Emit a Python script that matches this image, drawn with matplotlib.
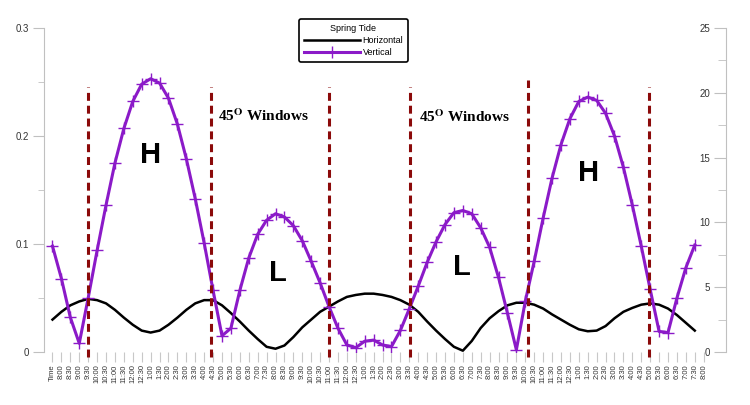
import numpy as np
import matplotlib.pyplot as plt

plt.rcParams['font.family'] = ['Liberation Sans', 'DejaVu Sans']
plt.rcParams['mathtext.fontset'] = 'stix'

# x categories: a "Time" header, then half hour steps over 36 hours
half_hours = ['8:00', '8:30', '9:00', '9:30', '10:00', '10:30', '11:00', '11:30',
              '12:00', '12:30', '1:00', '1:30', '2:00', '2:30', '3:00', '3:30',
              '4:00', '4:30', '5:00', '5:30', '6:00', '6:30', '7:00', '7:30']
time_labels = ['Time'] + half_hours * 3 + ['8:00']

# vertical component (left axis)
vertical = [0.098, 0.068, 0.032, 0.008, 0.050, 0.094, 0.136, 0.175, 0.207, 0.232,
            0.248, 0.253, 0.249, 0.235, 0.211, 0.179, 0.142, 0.101, 0.057, 0.015,
            0.022, 0.057, 0.087, 0.109, 0.122, 0.128, 0.125, 0.117, 0.103, 0.084,
            0.064, 0.042, 0.022, 0.0065, 0.004, 0.010, 0.011, 0.0065, 0.005, 0.020,
            0.040, 0.061, 0.083, 0.102, 0.118, 0.129, 0.131, 0.128, 0.115, 0.097,
            0.069, 0.036, 0.002, 0.047, 0.084, 0.124, 0.161, 0.192, 0.216, 0.232,
            0.236, 0.233, 0.221, 0.200, 0.171, 0.136, 0.098, 0.058, 0.019, 0.018,
            0.050, 0.078, 0.099]

# horizontal component (right axis)
horizontal = [2.5, 3.1, 3.6, 3.9, 4.1, 4.0, 3.75, 3.25, 2.65, 2.1,
              1.65, 1.5, 1.65, 2.1, 2.65, 3.25, 3.75, 4.0, 4.0, 3.6,
              3.0, 2.35, 1.65, 1.0, 0.4, 0.25, 0.5, 1.15, 1.9, 2.5,
              3.1, 3.5, 3.9, 4.25, 4.4, 4.5, 4.5, 4.4, 4.25, 4.0,
              3.65, 3.1, 2.35, 1.65, 1.0, 0.4, 0.1, 0.85, 1.85, 2.6,
              3.15, 3.6, 3.8, 3.8, 3.65, 3.35, 2.9, 2.5, 2.1, 1.75,
              1.6, 1.65, 2.0, 2.6, 3.1, 3.4, 3.65, 3.75, 3.65, 3.35,
              2.85, 2.25, 1.65]

window_lines = [4.0, 17.8, 31.0, 40.1, 53.3, 66.9]
window_tops = [0.245, 0.245, 0.245, 0.245, 0.252, 0.245]

fig = plt.figure(figsize=(7.5, 4.05), dpi=100)
ax = fig.add_axes([0.0587, 0.1309, 0.9093, 0.80])
ax2 = ax.twinx()

x = np.arange(len(vertical))

ax2.plot(x, horizontal, color='black', lw=1.8, label='Horizontal')
ax.plot(x, vertical, color='#8B1AC8', lw=2.2, marker='+', ms=8, mew=1.0,
        label='Vertical')
ax.set_zorder(ax2.get_zorder() + 1)
ax.patch.set_visible(False)

ax.vlines(window_lines, -0.005, window_tops, colors='#8B0A0A', lw=2.2,
          linestyles=[(0, (2.6, 1.6))], zorder=5, clip_on=False)

ax.set_xlim(-0.95, 75.5)
ax.set_ylim(0, 0.3)
ax2.set_ylim(0, 25)

ax.set_xticks(np.arange(len(time_labels)))
ax.set_xticklabels(time_labels, rotation=90, fontsize=5.5, color='#333333')
ax.tick_params(axis='x', length=7, color='#c8c8c8', pad=2)

ax.set_yticks([0, 0.1, 0.2, 0.3])
ax.set_yticklabels(['0', '0.1', '0.2', '0.3'])
ax.set_yticks([0.05, 0.15, 0.25], minor=True)
ax.tick_params(axis='y', which='major', length=8, color='#c0c0c0',
               labelsize=7, labelcolor='#333333', pad=3)
ax.tick_params(axis='y', which='minor', length=4, color='#c0c0c0')
for s in ['top', 'right', 'bottom']:
    ax.spines[s].set_visible(False)
ax.spines['left'].set_color('#c0c0c0')
ax.spines['left'].set_linewidth(0.8)

# right scale drawn with ticks and labels on the inner side
ax2.yaxis.set_ticks_position('left')
ax2.spines['left'].set_position(('axes', 1.0))
for s in ['top', 'right', 'bottom']:
    ax2.spines[s].set_visible(False)
ax2.spines['left'].set_color('#c0c0c0')
ax2.spines['left'].set_linewidth(0.8)
ax2.set_yticks([0, 5, 10, 15, 20, 25])
ax2.set_yticks([2.5, 7.5, 12.5, 17.5, 22.5], minor=True)
ax2.tick_params(axis='y', which='major', length=8.5, color='#c0c0c0',
                labelsize=7, labelcolor='#333333', pad=3)
ax2.tick_params(axis='y', which='minor', length=6, color='#c0c0c0')

for xp, yp, t in [(11, 0.182, 'H'), (25.3, 0.073, 'L'), (45.9, 0.079, 'L'), (60.1, 0.166, 'H')]:
    ax.text(xp, yp, t, fontsize=21, fontweight='bold', ha='center', va='center')

for xp, yp in [(18.6, 0.219), (41.1, 0.218)]:
    ax.text(xp, yp, r'45$^{\mathbf{O}}$ Windows', fontsize=11, fontweight='bold',
            family=['Liberation Serif'], ha='left', va='center')

h1, l1 = ax2.get_legend_handles_labels()
h2, l2 = ax.get_legend_handles_labels()
leg = fig.legend(h1 + h2, l1 + l2, loc='upper center', bbox_to_anchor=(0.4713, 0.963),
                 title='Spring Tide', fontsize=6.5, title_fontsize=6.5, frameon=True,
                 fancybox=True, edgecolor='black', handlelength=6.2, borderpad=0.5,
                 labelspacing=0.35, handletextpad=0.3)
leg.get_frame().set_linewidth(1.2)
leg.get_frame().set_alpha(1)

fig.savefig('out.png', dpi=100)
